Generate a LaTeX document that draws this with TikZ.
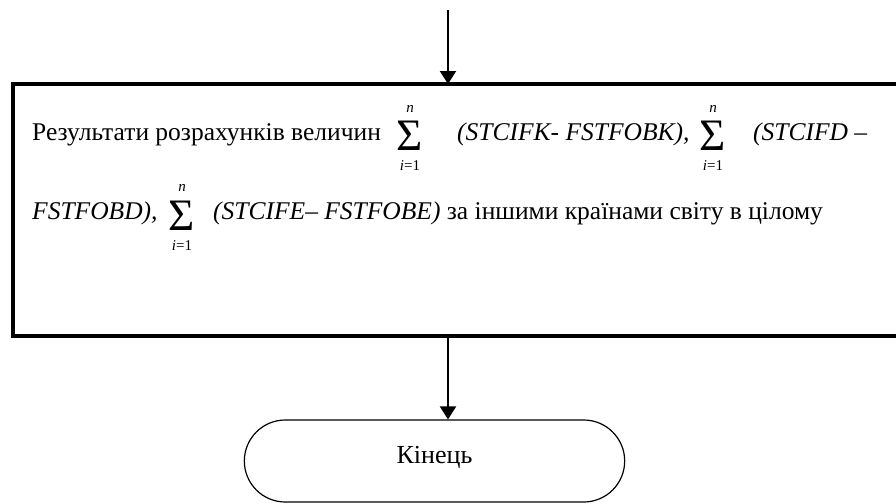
\documentclass[tikz,border=0pt]{standalone}
\usepackage{fontspec}
\setmainfont{Liberation Serif}
\usetikzlibrary{arrows.meta,shapes.misc}
\tikzset{
  resbox/.style={draw,line width=4pt,rectangle,inner sep=0pt,outer sep=0pt},
  endbox/.style={draw,line width=1.2pt,rounded rectangle,minimum width=387pt,minimum height=82pt,text height=24pt,text depth=20pt,font=\fontsize{26}{30}\selectfont},
  txt/.style={anchor=base west,inner sep=0pt,font=\fontsize{25.5}{30}\selectfont},
  itxt/.style={txt,font=\fontsize{25.5}{30}\selectfont\itshape},
  sumsign/.style={anchor=base,inner sep=0pt,font=\fontsize{45}{45}\selectfont},
  limtxt/.style={anchor=base,inner sep=0pt,font=\fontsize{15}{15}\selectfont},
  arr/.style={-{Triangle[width=16pt,length=13pt]},line width=2pt}
}

\begin{document}
\begin{tikzpicture}[x=1pt,y=-1pt]
\useasboundingbox (0,0) rectangle (896,503);
\node[resbox,minimum width=890pt,minimum height=252pt,anchor=north west] (res) at (13,84) {};
\node[txt] (t1) at (32,140) {Результати розрахунків величин};
\node[sumsign] (sum1) at (410,150) {Σ};
\node[limtxt] (up1) at (410,112) {\textit{n}};
\node[limtxt] (lo1) at (410,170) {\textit{i}=1};
\node[itxt] (t2) at (457,140) {(STCIFK- FSTFOBK),};
\node[sumsign] (sum2) at (713,150) {Σ};
\node[limtxt] (up2) at (713,112) {\textit{n}};
\node[limtxt] (lo2) at (713,170) {\textit{i}=1};
\node[itxt] (t3) at (753,140) {(STCIFD –};
\node[itxt] (t4) at (32,219) {FSTFOBD),};
\node[sumsign] (sum3) at (182,230) {Σ};
\node[limtxt] (up3) at (182,191) {\textit{n}};
\node[limtxt] (lo3) at (182,250) {\textit{i}=1};
\node[txt] (t5) at (213,219) {\textit{(STCIFE– FSTFOBE)} за іншими країнами світу в цілому};
\node[endbox] (end) at (434.5,461) {Кінець};
\coordinate (top) at (448,10);
\draw[arr] (top) -- (top |- res.north);
\draw[arr] (res.south -| top) -- (end.north -| top);
\end{tikzpicture}
\end{document}
